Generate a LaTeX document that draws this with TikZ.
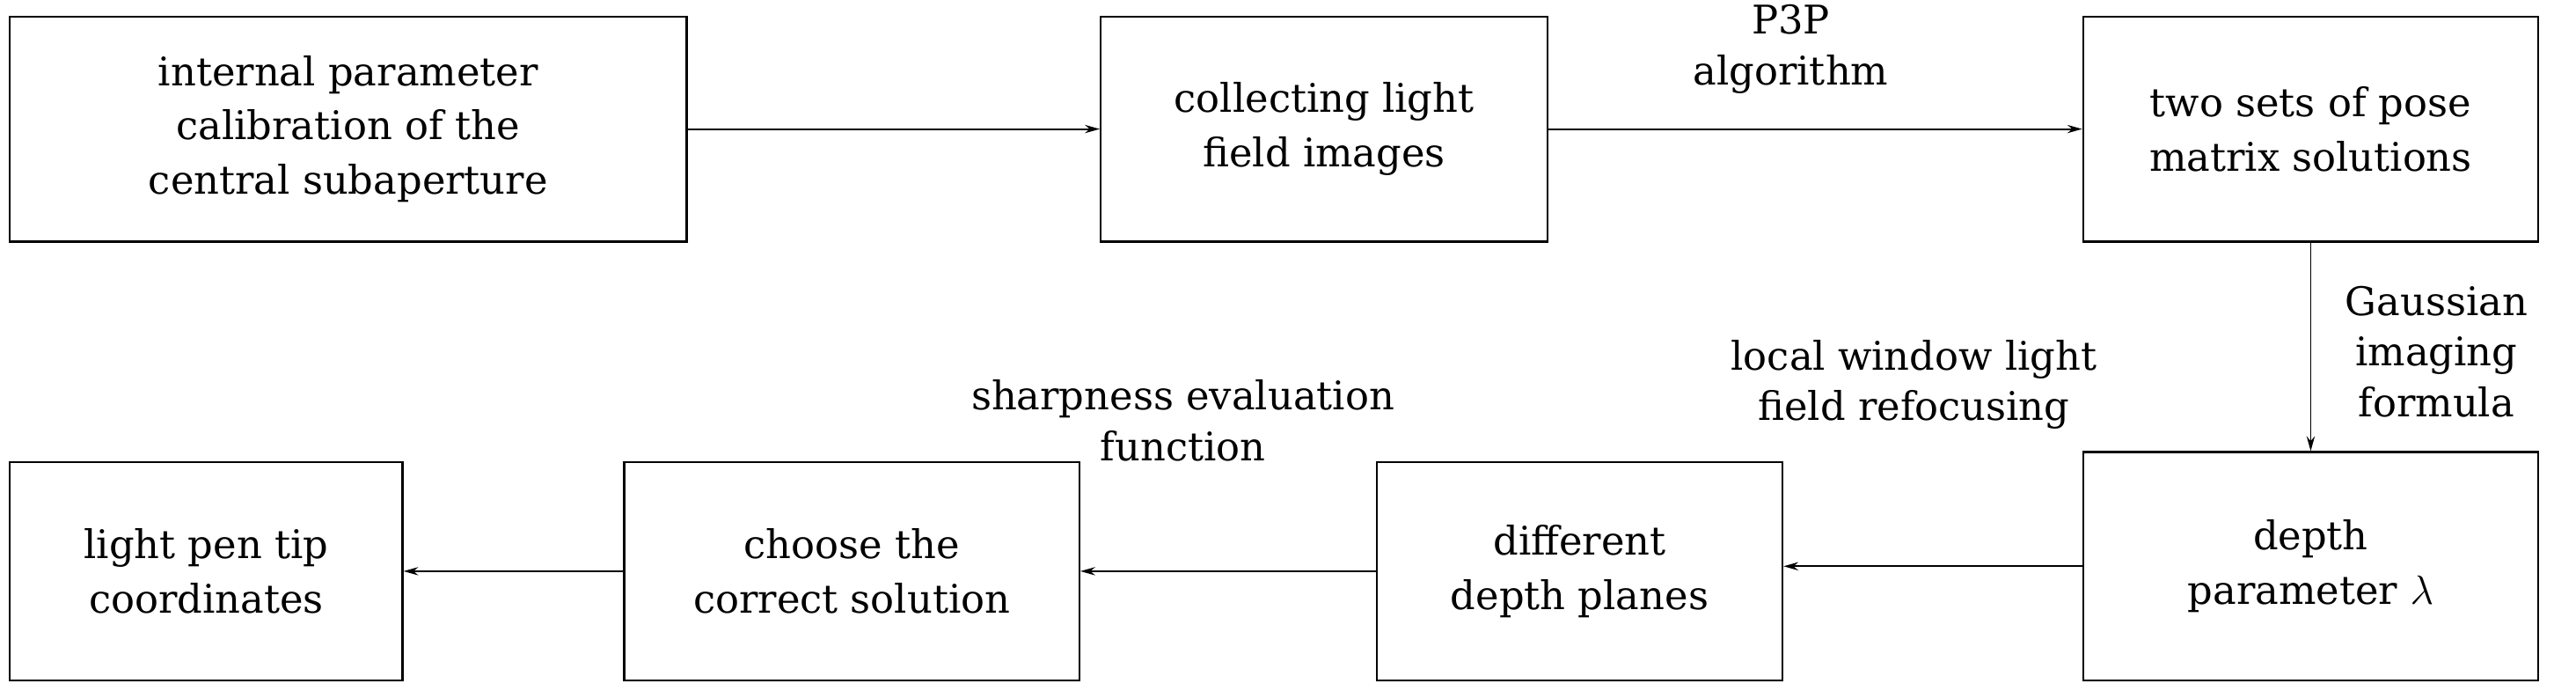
\documentclass[tikz,border=0pt]{standalone}
\usepackage{fontspec}
\setmainfont{DejaVu Serif}
\usetikzlibrary{arrows.meta}
\begin{document}
\begin{tikzpicture}[x=1pt,y=-1pt,
  box/.style={draw,line width=1.2pt,inner sep=0pt,align=center,font=\fontsize{24}{33}\selectfont},
  lab/.style={align=center,font=\fontsize{24}{31}\selectfont},
  arr/.style={-{Stealth[length=9pt,width=5pt]},line width=1pt}]
\useasboundingbox (0,0) rectangle (1568,420);
\node[box,minimum width=412pt,minimum height=137pt] (a) at (212,78.5) {internal parameter\\calibration of the\\central subaperture};
\node[box,minimum width=272pt,minimum height=137pt] (b) at (806,78.5) {collecting light\\field images};
\node[box,minimum width=277pt,minimum height=137pt] (c) at (1406.5,78.5) {two sets of pose\\matrix solutions};
\node[box,minimum width=277pt,minimum height=139pt] (d) at (1406.5,344.5) {depth\\parameter $\lambda$};
\node[box,minimum width=247pt,minimum height=133pt] (e) at (961.5,347.5) {different\\depth planes};
\node[box,minimum width=277pt,minimum height=133pt] (f) at (518.5,347.5) {choose the\\correct solution};
\node[box,minimum width=239pt,minimum height=133pt] (g) at (125.5,347.5) {light pen tip\\coordinates};
\draw[arr] (a) -- (b);
\draw[arr] (b) -- (c);
\draw[arr] (c) -- (d);
\draw[arr] (d.west) -- (e.east|-d.west);
\draw[arr] (e) -- (f);
\draw[arr] (f) -- (g);
\node[lab] (l1) at (1090,30) {P3P\\algorithm};
\node[lab,align=center] (l2) at (1483,214) {Gaussian\\imaging\\formula};
\node[lab] (l3) at (1165,234) {local window light\\field refocusing};
\node[lab] (l4) at (720,256) {sharpness evaluation\\function};
\end{tikzpicture}
\end{document}
